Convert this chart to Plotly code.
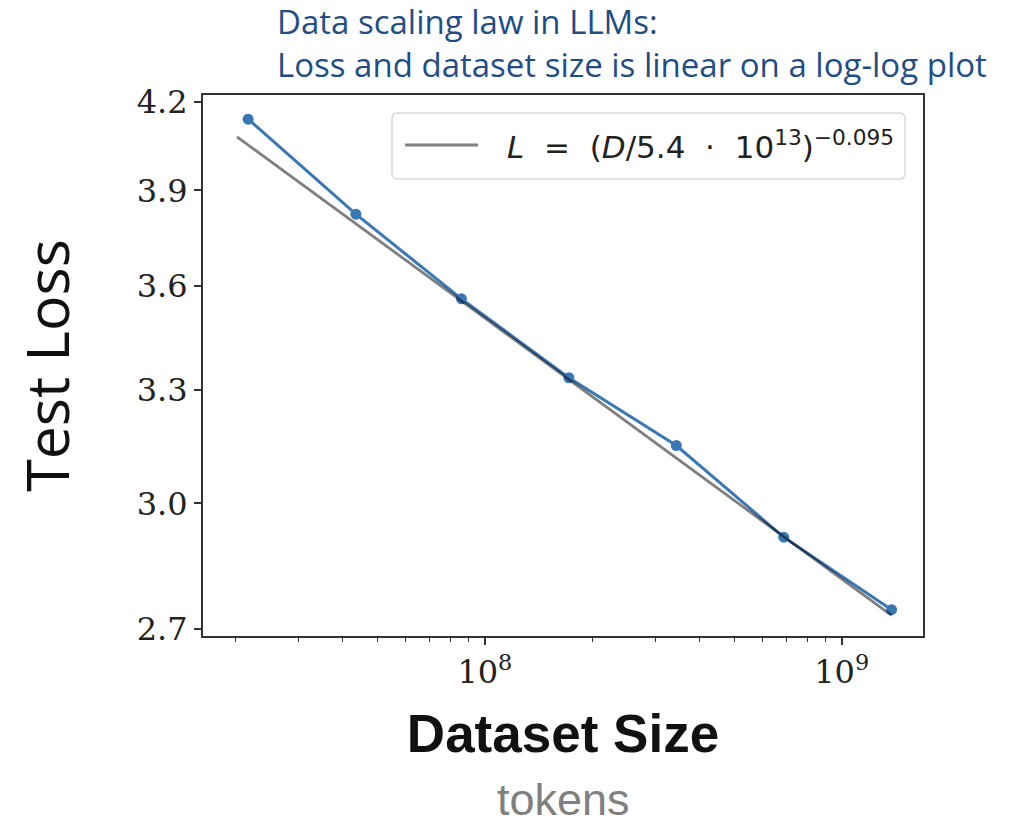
import plotly.graph_objects as go

# Dataset size (tokens) and measured test loss
dataset_tokens = [2.17e7, 4.35e7, 8.6e7, 1.72e8, 3.44e8, 6.88e8, 1.38e9]
test_loss = [4.14, 3.823, 3.561, 3.333, 3.149, 2.916, 2.744]

# Power-law fit L = (D / D_c) ** (-alpha), drawn between two endpoints
fit_dc = 5.4e13
fit_alpha = 0.095
fit_tokens = [2.02e7, 1.38e9]
fit_loss = [(d / fit_dc) ** (-fit_alpha) for d in fit_tokens]

y_ticks = [2.7, 3.0, 3.3, 3.6, 3.9, 4.2]
y_ticktext = ["2.7", "3.0", "3.3", "3.6", "3.9", "4.2"]
x_ticks = [1e8, 1e9]
x_ticktext = ["10<sup>8</sup>", "10<sup>9</sup>"]
x_minor = [2e7, 3e7, 4e7, 5e7, 6e7, 7e7, 8e7, 9e7,
           2e8, 3e8, 4e8, 5e8, 6e8, 7e8, 8e8, 9e8]

FIT_COLOR = "rgba(0,0,0,0.5)"
DATA_COLOR = "#3a78b5"
fit_label = ("<i>L</i>&nbsp;&nbsp;=&nbsp;&nbsp;(<i>D</i>/5.4&nbsp;&nbsp;·&nbsp;&nbsp;10<sup>13</sup>)"
             "<sup>−0.095</sup>")

fig = go.Figure()
fig.add_trace(go.Scatter(
    x=dataset_tokens, y=test_loss, mode="lines+markers",
    line=dict(color=DATA_COLOR, width=3),
    marker=dict(color=DATA_COLOR, size=11),
    showlegend=False,
))
fig.add_trace(go.Scatter(
    x=fit_tokens, y=fit_loss, mode="lines",
    line=dict(color=FIT_COLOR, width=2.8),
    name=fit_label, showlegend=False,
))

axis_common = dict(
    showgrid=False, zeroline=False, showline=True, mirror=True,
    linecolor="#333333", linewidth=2, ticks="outside", ticklen=7,
    tickwidth=1.5, tickcolor="#333333",
    tickfont=dict(family="DejaVu Serif", size=32, color="#222222"),
)

fig.update_xaxes(
    type="log", range=[7.210, 9.228],
    tickvals=x_ticks, ticktext=x_ticktext,
    minor=dict(tickvals=x_minor, ticks="outside", ticklen=4, tickwidth=1.2,
               tickcolor="#333333"),
    title=dict(text="<b>Dataset Size</b>",
               font=dict(family="Liberation Sans", size=53, color="#111111"),
               standoff=24),
    **axis_common,
)
fig.update_yaxes(
    type="log", range=[0.4288, 0.6258],
    tickvals=y_ticks, ticktext=y_ticktext,
    title=dict(text="Test Loss",
               font=dict(family="Open Sans", size=59, color="#111111"),
               standoff=48),
    **axis_common,
)

# Legend panel (paper coordinates), rounded corners via quadratic curves
lx0, lx1, ly0, ly1 = 0.2625, 0.975, 0.8447, 0.9667
rx, ry = 0.008, 0.011
legend_path = (
    f"M{lx0 + rx},{ly0} L{lx1 - rx},{ly0} Q{lx1},{ly0} {lx1},{ly0 + ry} "
    f"L{lx1},{ly1 - ry} Q{lx1},{ly1} {lx1 - rx},{ly1} "
    f"L{lx0 + rx},{ly1} Q{lx0},{ly1} {lx0},{ly1 - ry} "
    f"L{lx0},{ly0 + ry} Q{lx0},{ly0} {lx0 + rx},{ly0} Z"
)
legend_y = 0.9076

fig.update_layout(
    width=1035, height=826,
    margin=dict(l=203, r=112, t=95, b=190),
    plot_bgcolor="white", paper_bgcolor="white",
    showlegend=False,
    shapes=[
        dict(type="path", xref="paper", yref="paper", path=legend_path,
             fillcolor="rgba(255,255,255,0.85)",
             line=dict(color="#d9d9d9", width=1.5), layer="above"),
        dict(type="line", xref="paper", yref="paper",
             x0=0.2806, x1=0.3819, y0=legend_y, y1=legend_y,
             line=dict(color=FIT_COLOR, width=2.8), layer="above"),
    ],
    annotations=[
        dict(text=fit_label, xref="paper", yref="paper", x=0.4194, y=legend_y,
             showarrow=False, xanchor="left", yanchor="middle",
             font=dict(family="DejaVu Sans", size=31, color="#222222")),
        dict(text="Data scaling law in LLMs:<br>Loss and dataset size is linear on a log-log plot",
             xref="paper", yref="paper", x=0.1, y=1, yshift=6,
             showarrow=False, align="left", xanchor="left", yanchor="bottom",
             font=dict(family="Open Sans", size=33, color="#1f4e87")),
        dict(text="tokens", xref="paper", yref="paper", x=0.5, y=-0.303,
             showarrow=False, xanchor="center", yanchor="middle",
             font=dict(family="Liberation Sans", size=45, color="#808080")),
    ],
)

fig.write_html("out.html")
